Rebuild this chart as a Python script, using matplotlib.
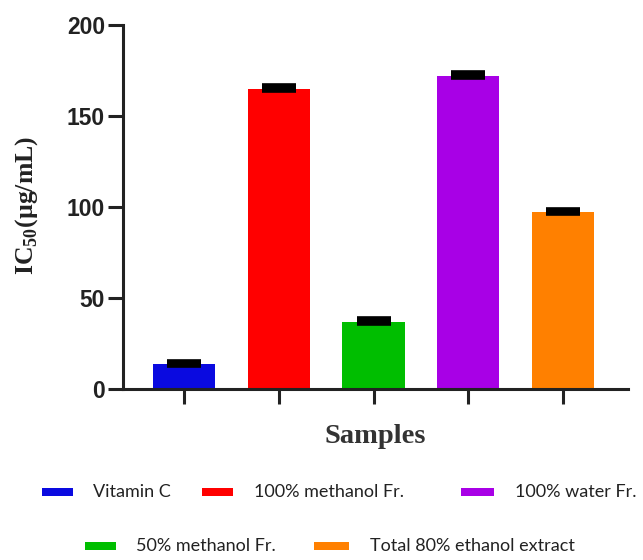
import matplotlib
matplotlib.use("Agg")
import matplotlib.pyplot as plt
from matplotlib.patches import Rectangle

# ---- data ----
samples = ["Vitamin C", "100% methanol Fr.", "50% methanol Fr.",
           "100% water Fr.", "Total 80% ethanol extract"]
ic50 = [13.5, 165.0, 37.0, 172.0, 97.0]
ic50_err = [1.0, 1.0, 1.0, 1.0, 1.0]
colors = ["#0A0AE0", "#FF0000", "#00BE00", "#A800E6", "#FF8000"]
yticks = [0, 50, 100, 150, 200]

plt.rcParams['mathtext.fontset'] = 'custom'
plt.rcParams['mathtext.rm'] = 'Liberation Serif:bold'
plt.rcParams['mathtext.bf'] = 'Liberation Serif:bold'

W, H = 643, 560
fig = plt.figure(figsize=(W / 100, H / 100), dpi=100)
ax = fig.add_axes([123 / W, 1 - 389 / H, (628 - 123) / W, (389 - 25) / H])

x = list(range(len(samples)))
ax.bar(x, ic50, width=0.655, color=colors, zorder=2)
ax.errorbar(x, ic50, yerr=[[0] * len(x), ic50_err], fmt='none', ecolor='black',
            elinewidth=3, capsize=12, capthick=5.5, zorder=3)

ax.set_xlim(-0.644, 4.686)
ax.set_ylim(0, 200)
ax.set_yticks(yticks)
ax.set_xticks(x)
ax.set_xticklabels([])
for s in ['top', 'right']:
    ax.spines[s].set_visible(False)
for s in ['left', 'bottom']:
    ax.spines[s].set_linewidth(2.2)
    ax.spines[s].set_color('#222222')
ax.tick_params(axis='both', direction='out', length=11, width=2.2, color='#222222')
ax.tick_params(axis='y', pad=2)
for lab in ax.get_yticklabels():
    lab.set_fontfamily('Liberation Sans')
    lab.set_fontweight('bold')
    lab.set_fontsize(16.5)
    lab.set_color('#222222')

fig.text(27 / W, 1 - 205 / H, r'IC$_{\mathbf{50}}$(µg/mL)', rotation=90,
         ha='center', va='center', family='Liberation Serif', weight='bold',
         fontsize=18.5, color='#222222')
fig.text(375 / W, 1 - 443 / H, 'Samples', ha='center', va='baseline',
         family='Liberation Serif', weight='bold', fontsize=20.5, color='#333333')

# ---- legend (manual layout in pixels) ----
leg_layout = [  # patch_x0, patch_x1, text_x, y
    (42, 73, 93, 492),
    (202, 233, 254, 492),
    (85, 116, 136, 546),
    (461, 494, 515, 492),
    (314, 349, 370, 546),
]
for (px0, px1, tx, py), lab, col in zip(leg_layout, samples, colors):
    fig.add_artist(Rectangle((px0 / W, 1 - (py + 4) / H), (px1 - px0) / W, 8 / H,
                             transform=fig.transFigure, color=col, lw=0))
    fig.text(tx / W, 1 - py / H, lab, ha='left', va='center', family='Lato',
             fontsize=13, color='#222222')

fig.savefig('out.png', dpi=100)
